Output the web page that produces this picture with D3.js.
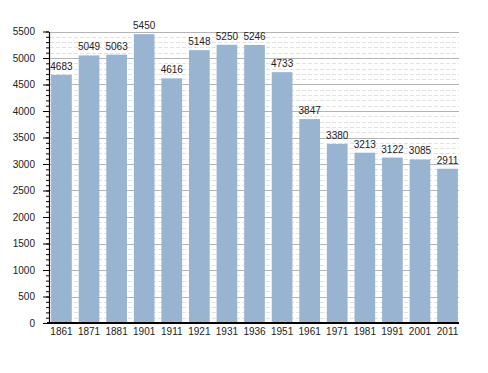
<!DOCTYPE html>
<html>
<head>
<meta charset="utf-8">
<script src="https://cdn.jsdelivr.net/npm/d3@7"></script>
<style>
  body { margin: 0; background: #fff; }
  text { font-family: "Liberation Sans", Arial, sans-serif; }
</style>
</head>
<body>
<div id="chart"></div>
<script>
// census years and population
var years = ["1861", "1871", "1881", "1901", "1911", "1921", "1931", "1936",
             "1951", "1961", "1971", "1981", "1991", "2001", "2011"];
var population = [4683, 5049, 5063, 5450, 4616, 5148, 5250, 5246,
                  4733, 3847, 3380, 3213, 3122, 3085, 2911];
var majorTicks = [0, 500, 1000, 1500, 2000, 2500, 3000, 3500, 4000, 4500, 5000, 5500];
var minorTicks = d3.range(0, 5501, 100);

var width = 488, height = 373;
var plotLeft = 50, plotRight = 459, plotTop = 31.5, plotBottom = 323;

var svg = d3.select("#chart")
    .append("svg")
    .attr("width", width)
    .attr("height", height);

var x = d3.scaleBand()
    .domain(years)
    .range([plotLeft, plotRight])
    .paddingInner(0.25)
    .paddingOuter(0.04);

var y = d3.scaleLinear()
    .domain([0, 5500])
    .range([plotBottom, plotTop]);

// minor grid (every 100)
svg.append("g")
    .selectAll("line")
    .data(minorTicks.filter(d => d % 500 != 0))
    .enter()
    .append("line")
    .attr("x1", plotLeft)
    .attr("x2", plotRight)
    .attr("y1", d => Math.round(y(d)) + 0.5)
    .attr("y2", d => Math.round(y(d)) + 0.5)
    .attr("stroke", "#e2e2e2")
    .attr("stroke-dasharray", "4,2");

// major grid (every 500)
svg.append("g")
    .selectAll("line")
    .data(majorTicks.filter(d => d > 0))
    .enter()
    .append("line")
    .attr("x1", plotLeft)
    .attr("x2", plotRight)
    .attr("y1", d => Math.round(y(d)) + 0.5)
    .attr("y2", d => Math.round(y(d)) + 0.5)
    .attr("stroke", "#b4b4b4");

// bars
svg.append("g")
    .selectAll("rect")
    .data(population)
    .enter()
    .append("rect")
    .attr("x", (d, i) => x(years[i]))
    .attr("y", d => y(d))
    .attr("width", x.bandwidth())
    .attr("height", d => plotBottom - y(d))
    .attr("fill", "#99b4d1");

// value labels
svg.append("g")
    .selectAll("text")
    .data(population)
    .enter()
    .append("text")
    .attr("x", (d, i) => x(years[i]) + x.bandwidth() / 2)
    .attr("y", d => y(d) - 5)
    .attr("text-anchor", "middle")
    .attr("font-size", 10)
    .attr("fill", "#222")
    .text(d => d);

// y axis: minor ticks
svg.append("g")
    .attr("transform", "translate(" + (plotLeft - 1) + ",0)")
    .call(d3.axisLeft(y).tickValues(minorTicks).tickSize(3).tickFormat(""))
    .call(g => g.select(".domain").remove())
    .selectAll("line").attr("stroke", "#000");

// y axis: major ticks and labels
var yAxis = svg.append("g")
    .attr("transform", "translate(" + (plotLeft - 1) + ",0)")
    .call(d3.axisLeft(y).tickValues(majorTicks).tickSize(6).tickPadding(8)
        .tickSizeOuter(0).tickFormat(d3.format("d")));
yAxis.select(".domain").attr("stroke", "#000").attr("stroke-width", 1.2);
yAxis.selectAll("text").attr("font-size", 10).attr("fill", "#222")
    .style("font-family", "'Liberation Sans', Arial, sans-serif");

// x axis
var xAxis = svg.append("g")
    .attr("transform", "translate(0," + plotBottom + ")")
    .call(d3.axisBottom(x).tickSize(0).tickPadding(5));
xAxis.select(".domain")
    .attr("d", "M" + (plotLeft - 3) + ",0H" + plotRight)
    .attr("stroke", "#000").attr("stroke-width", 2);
xAxis.selectAll("text").attr("font-size", 10).attr("fill", "#222")
    .style("font-family", "'Liberation Sans', Arial, sans-serif");
</script>
</body>
</html>
